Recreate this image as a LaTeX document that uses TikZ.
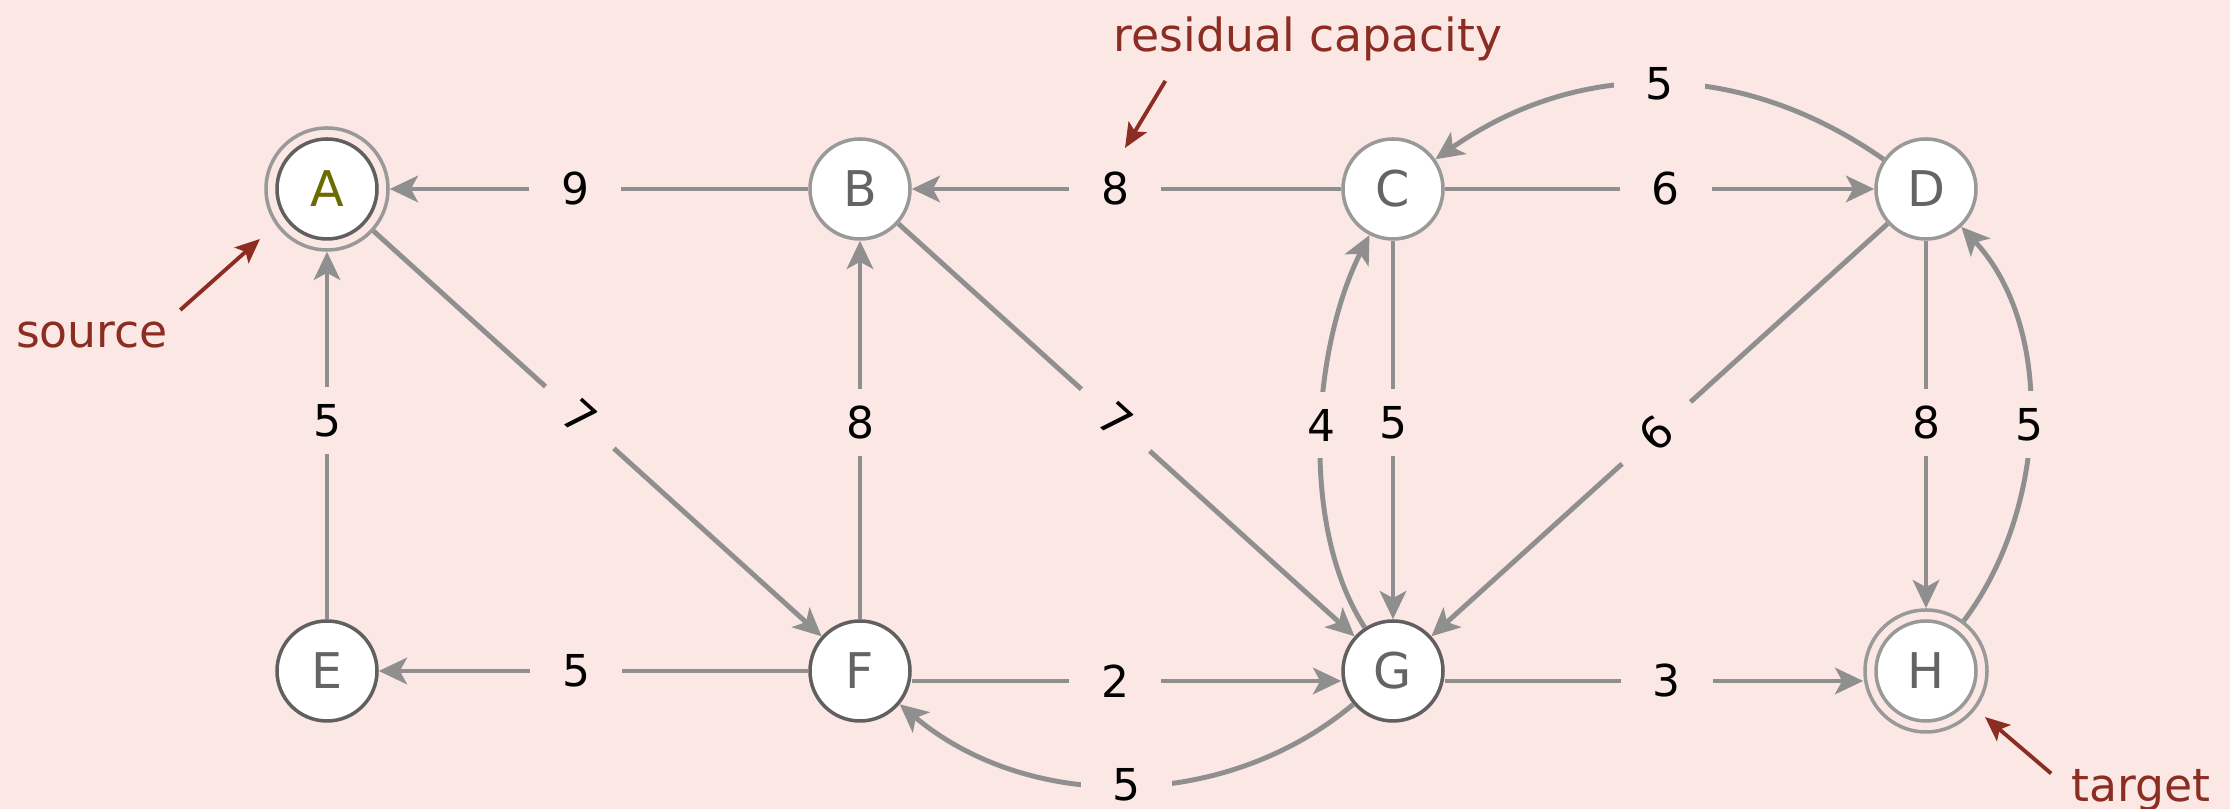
\documentclass[tikz,border=0pt]{standalone}
\usepackage{fontspec}
\setmainfont{DejaVu Sans}
\usetikzlibrary{positioning,arrows.meta}
\definecolor{bgpink}{RGB}{251,231,228}
\definecolor{lightrim}{RGB}{153,153,153}
\definecolor{darkrim}{RGB}{96,96,96}
\definecolor{letter}{RGB}{100,100,100}
\definecolor{srcletter}{RGB}{107,107,0}
\definecolor{arcgray}{RGB}{143,143,143}
\definecolor{rust}{RGB}{140,45,35}

\begin{document}
\begin{tikzpicture}[
  vertex/.style = {circle, draw = lightrim, fill = white, line width = 1pt, minimum size = 1cm, inner sep = 0pt, text = letter, font = \fontsize{14}{16}\selectfont},
  reached/.style = {draw = darkrim},
  outer/.style = {circle, draw = lightrim, line width = 1pt, minimum size = 1.22cm, inner sep = 0pt},
  flow/.style = {draw = arcgray, line width = 1.4pt, -{Stealth[length = 8pt, width = 7.5pt, inset = 2pt]}},
  resid/.style = {fill = bgpink, text = black, inner xsep = 3.2mm, inner ysep = 1.7mm, font = \fontsize{12.5}{14}\selectfont},
  annot/.style = {text = rust, anchor = base, font = \fontsize{13}{15}\selectfont},
  pointer/.style = {draw = rust, line width = 1.1pt, -{Stealth[length = 7pt, width = 6pt, inset = 1.5pt]}},
  node distance = 4.82cm and 5.33cm, on grid]
\useasboundingbox (0,0) rectangle (22.30,8.09);
\fill[bgpink] (0,0) rectangle (22.30,8.09);

\node[vertex, reached, text = srcletter] (A) at (3.27,6.20) {A};
\node[vertex] (B) [right = of A] {B};
\node[vertex] (C) [right = of B] {C};
\node[vertex] (D) [right = of C] {D};
\node[vertex, reached] (E) [below = of A] {E};
\node[vertex, reached] (F) [right = of E] {F};
\node[vertex, reached] (G) [right = of F] {G};
\node[vertex] (H) [right = of G] {H};
\node[outer] (Aring) at (A) {};
\node[outer] (Hring) at (H) {};

\draw[flow] (B) -- node[resid, pos = 0.557] {9} (Aring);
\draw[flow] (C) -- node[resid, pos = 0.526] {8} (B);
\draw[flow] (C) -- node[resid, pos = 0.514] {6} (D);
\draw[flow] (D) to[out = 145, in = 35] node[resid] {5} (C);
\draw[flow] (Aring) -- node[resid, sloped, pos = 0.46] {7} (F);
\draw[flow] (B) -- node[resid, sloped, pos = 0.476] {7} (G);
\draw[flow] (D) -- node[resid, sloped, pos = 0.507] {6} (G);
\draw[flow] (E) -- node[resid, pos = 0.54] {5} (Aring);
\draw[flow] (F) -- node[resid, pos = 0.52] {8} (B);
\draw[flow] (C) -- node[resid, pos = 0.48] {5} (G);
\draw[flow] (G) to[out = 123, in = 243, looseness = 0.8] node[resid, pos = 0.52] {4} (C);
\draw[flow] (D) -- node[resid, pos = 0.495] {8} (Hring);
\draw[flow] (Hring) to[out = 53, in = -47, looseness = 0.9] node[resid, pos = 0.49] {5} (D);
\draw[flow] (F) -- node[resid, pos = 0.54] {5} (E);
\draw[flow] ([yshift = -1mm]F.east) -- node[resid, pos = 0.474] {2} ([yshift = -1mm]G.west);
\draw[flow] (G) to[out = -140, in = -40, looseness = 0.95] node[resid] {5} (F);
\draw[flow] ([yshift = -1mm]G.east) -- node[resid, pos = 0.53] {3} ([yshift = -1mm]Hring.west);

\node[annot] (rescap) at (13.08,7.57) {residual capacity};
\node[annot] (source) at (0.92,4.61) {source};
\node[annot] (target) at (21.41,0.07) {target};
\coordinate (captip) at (11.25,6.61);
\coordinate (srctip) at (2.60,5.70);
\coordinate (tgttip) at (19.85,0.92);
\draw[pointer] ([xshift = 6.4mm, yshift = -0.7mm]rescap.south west) -- (captip);
\draw[pointer] (source.north east) -- (srctip);
\draw[pointer] ([xshift = -0.8mm, yshift = -1.6mm]target.north west) -- (tgttip);
\end{tikzpicture}
\end{document}
